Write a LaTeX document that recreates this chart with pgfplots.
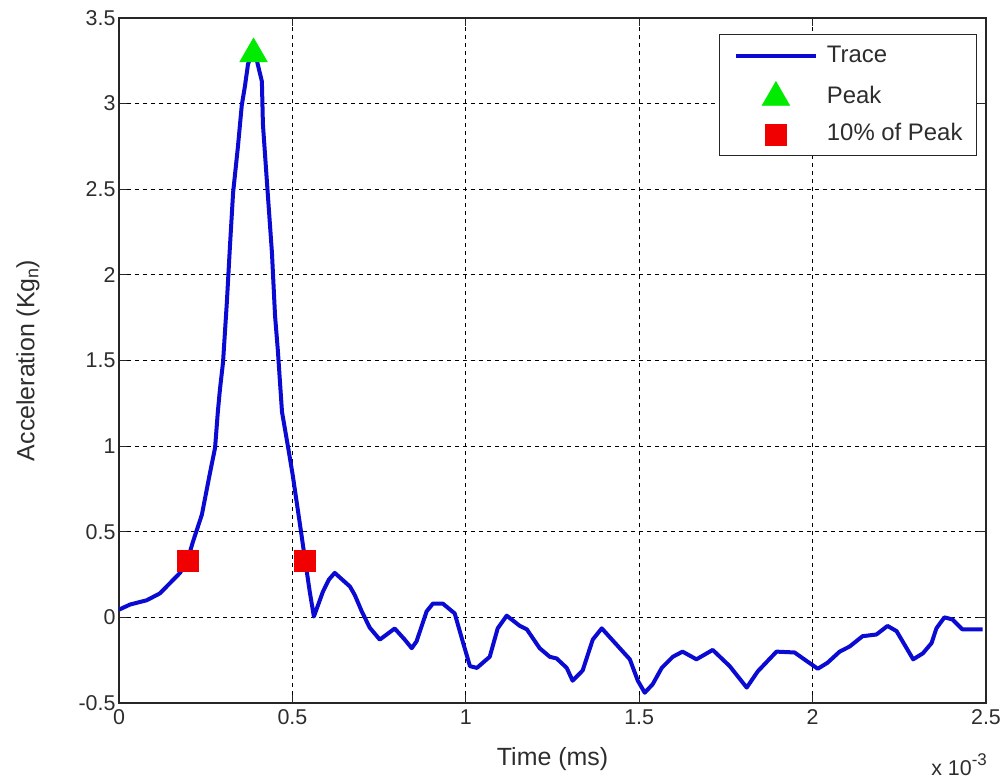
\documentclass[border=0pt]{standalone}
\usepackage{pgfplots}
\pgfplotsset{compat=1.18}
\usepackage{fontspec}
\setmainfont{Liberation Sans}
\definecolor{tracecol}{RGB}{10,10,210}
\definecolor{peakcol}{RGB}{0,235,0}
\definecolor{sqcol}{RGB}{240,0,0}
\definecolor{txt}{RGB}{45,45,45}
\pgfplotsset{mylegend/.style={legend image code/.code={\draw[mark repeat=2,mark phase=2,##1] plot coordinates {(0bp,0bp) (40bp,0bp) (80bp,0bp)};}}}
\begin{document}
\begin{tikzpicture}
\begin{axis}[
  name=ax,
  at={(0,0)}, anchor=south west,
  scale only axis, width=867bp, height=685bp,
  xmin=0, xmax=2.5, ymin=-0.5, ymax=3.5,
  xtick={0,0.5,1,1.5,2,2.5}, ytick={-0.5,0,0.5,1,1.5,2,2.5,3,3.5},
  xticklabels={0,0.5,1,1.5,2,2.5},
  yticklabels={-0.5,0,0.5,1,1.5,2,2.5,3,3.5},
  /pgf/number format/assume math mode=true,
  tick align=inside, major tick length=8bp,
  grid=major,
  major grid style={black, line width=0.8bp, dash pattern=on 4bp off 4bp},
  axis line style={line width=1.2bp, black!85},
  tick style={line width=1bp, black!85},
  ticklabel style={font=\fontsize{21.5}{24}\selectfont, text=txt},
  xticklabel style={yshift=-3bp},
  xlabel={Time (ms)},
  ylabel={Acceleration (Kg\raisebox{-4bp}{\fontsize{18}{20}\selectfont n})},
  label style={font=\fontsize{25}{28}\selectfont, text=txt},
  xlabel style={at={(axis description cs:0.5,0)}, anchor=center, yshift=-56bp},
  ylabel style={at={([xshift=-91bp]axis description cs:0,0.5)}, anchor=center, rotate=0},
  legend cell align=left,
  legend style={at={(1,1)}, anchor=north east, xshift=-9bp, yshift=-16bp,
    draw=black!85, line width=1bp, fill=white,
    font=\fontsize{24}{28}\selectfont, text=txt,
    inner xsep=14bp, inner ysep=10bp, row sep=14bp, column sep=9bp,
    nodes={inner sep=0pt, text height=18bp, text depth=5bp}},
]
\addplot[tracecol, line width=4bp, line join=round, mylegend] coordinates {
(0,0.045) (0.032,0.075) (0.08,0.10) (0.118,0.14) (0.176,0.26) (0.197,0.33)
(0.213,0.44) (0.239,0.60) (0.262,0.84) (0.277,0.99) (0.285,1.20) (0.291,1.33)
(0.30,1.49) (0.311,1.84) (0.32,2.17) (0.329,2.48) (0.343,2.75) (0.354,2.99)
(0.363,3.10) (0.372,3.23) (0.38,3.28) (0.395,3.28) (0.40,3.23) (0.412,3.13)
(0.415,2.88) (0.427,2.53) (0.441,2.13) (0.45,1.76) (0.458,1.56) (0.47,1.20)
(0.487,1.0) (0.501,0.83) (0.522,0.54) (0.537,0.33) (0.55,0.15) (0.562,0.005)
(0.588,0.15) (0.605,0.22) (0.622,0.26) (0.666,0.18) (0.68,0.13) (0.70,0.035)
(0.723,-0.06) (0.752,-0.13) (0.795,-0.065) (0.824,-0.13) (0.844,-0.18) (0.858,-0.14)
(0.887,0.035) (0.905,0.08) (0.934,0.08) (0.968,0.023) (0.991,-0.14) (1.012,-0.285)
(1.032,-0.295) (1.069,-0.23) (1.092,-0.064) (1.118,0.01) (1.156,-0.05) (1.176,-0.07)
(1.213,-0.18) (1.242,-0.23) (1.262,-0.24) (1.291,-0.295) (1.308,-0.37) (1.337,-0.31)
(1.366,-0.13) (1.392,-0.064) (1.435,-0.16) (1.473,-0.245) (1.496,-0.37) (1.516,-0.44)
(1.539,-0.39) (1.565,-0.295) (1.597,-0.23) (1.625,-0.20) (1.665,-0.245) (1.712,-0.19)
(1.761,-0.285) (1.81,-0.41) (1.842,-0.315) (1.896,-0.20) (1.948,-0.205) (1.983,-0.255)
(2.015,-0.30) (2.043,-0.265) (2.078,-0.20) (2.107,-0.17) (2.144,-0.11) (2.184,-0.10)
(2.216,-0.05) (2.242,-0.08) (2.29,-0.245) (2.318,-0.21) (2.343,-0.15) (2.357,-0.064)
(2.38,0.0) (2.403,-0.012) (2.432,-0.07) (2.49,-0.07)
};
\addlegendentry{Trace}
\addplot[only marks, mark=triangle*, mark size=16bp,
  mark options={fill=peakcol, draw=peakcol, line width=0.5bp}, mylegend] coordinates {(0.388,3.29)};
\addlegendentry{Peak}
\addplot[only marks, mark=square*, mark size=10.5bp,
  mark options={fill=sqcol, draw=sqcol, line width=0.5bp}, mylegend] coordinates {(0.197,0.33) (0.537,0.33)};
\addlegendentry{10\% of Peak}
\end{axis}
\node[anchor=base east, font=\fontsize{21.5}{24}\selectfont, text=txt, inner sep=0pt]
  at ([yshift=-72bp, xshift=1bp]ax.south east) {x 10\raisebox{10bp}{\fontsize{17}{20}\selectfont -3}};
\pgfresetboundingbox
\path[use as bounding box] (-119bp,-78bp) rectangle (886bp,703bp);
\end{tikzpicture}
\end{document}
